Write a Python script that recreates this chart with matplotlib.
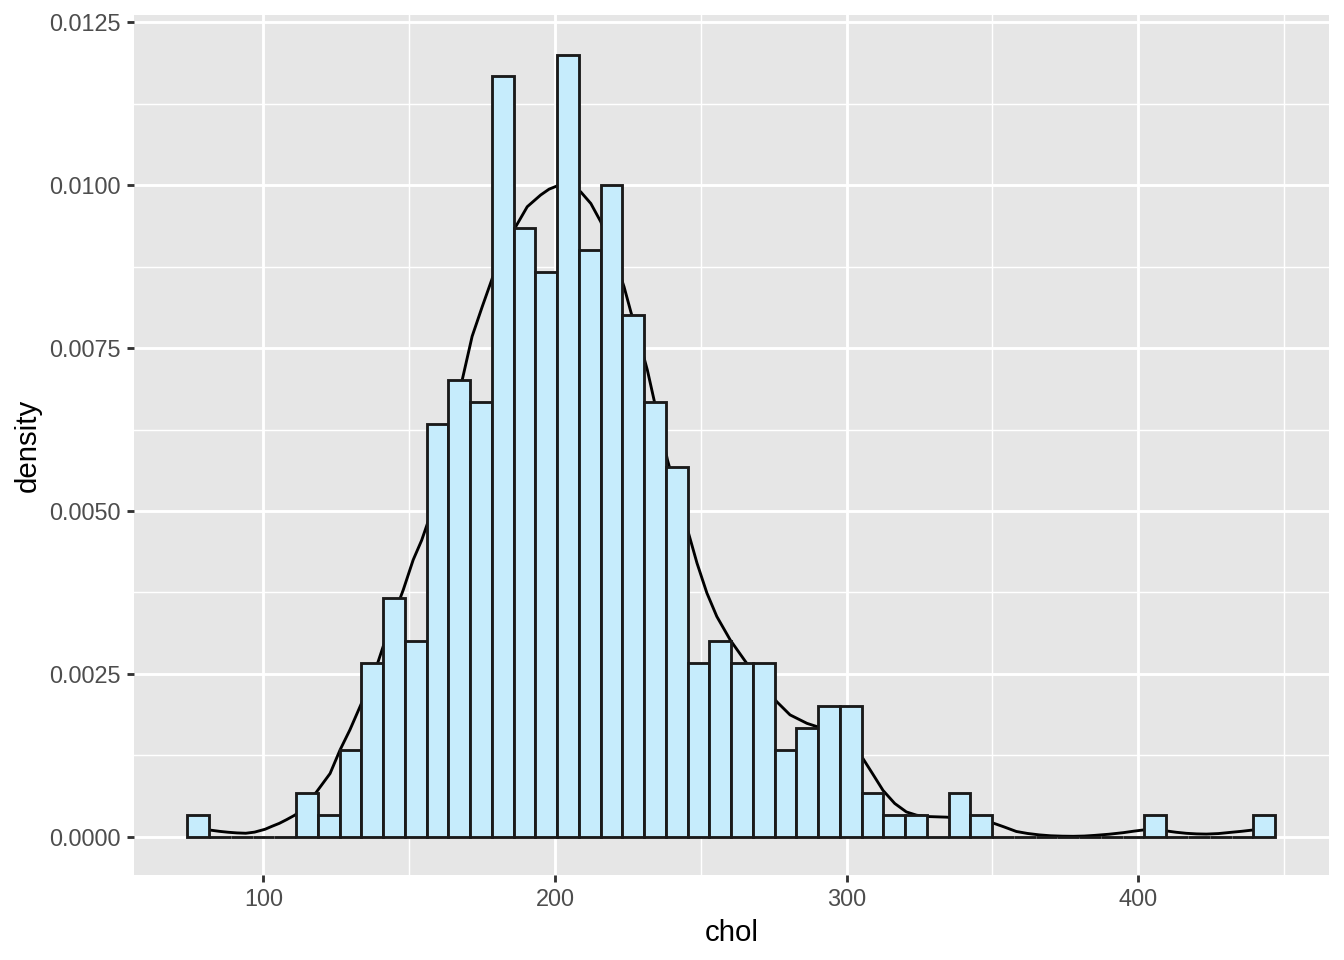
import matplotlib
matplotlib.use("Agg")
import matplotlib.pyplot as plt
import numpy as np

# ---- data ----
bin_start = 73.94
bin_width = 7.459
counts = [1, 0, 0, 0, 0, 2, 1, 4, 8, 11,
          9, 19, 21, 20, 35, 28, 26, 36, 27, 30,
          24, 20, 17, 8, 9, 8, 8, 4, 5, 6,
          6, 2, 1, 1, 0, 2, 1, 0, 0, 0,
          0, 0, 0, 0, 1, 0, 0, 0, 0, 1]

dens_x = [77.7, 80, 82, 85, 88, 91, 94, 97, 100.6, 103, 105.5, 108, 110.9, 114.5, 118.3,
          122.9, 126.3, 129.7, 133.2, 136.6, 139.4, 141.1, 144.6, 148, 151.4, 154.3,
          157, 160, 164, 168.2, 171.6, 175.1, 178.5, 182.5, 186.5, 190.5, 195.1, 198,
          200.8, 204.5, 208.8, 212.3, 215.7, 219.7, 223.7, 226, 228.8, 231.7, 234, 236.3,
          238.6, 242.2, 245.8, 248.7, 252.1, 255.5, 260.1, 265.3, 270.5, 276.1, 280.6,
          286.4, 289.8, 295, 300, 305.6, 309, 312.5, 316.5, 320.5, 324, 327.4, 334.2,
          342, 350.2, 354, 358.2, 362, 366, 370, 374, 377.7, 381.5, 385, 390, 394.9,
          398.5, 401.7, 405.5, 409.7, 413, 416.5, 420, 423.4, 427.5, 432, 435.5, 439.4,
          443.3]
dens_y = [0.000118, 0.000110, 0.000100, 0.000082, 0.000068, 0.000058, 0.000053, 0.000070,
          0.000114, 0.000160, 0.000205, 0.000262, 0.000333, 0.000480, 0.000690,
          0.000970, 0.00133, 0.00164, 0.00200, 0.00235, 0.00269, 0.00292, 0.00338, 0.00379,
          0.00425, 0.00455, 0.00490, 0.00545, 0.00620, 0.00701, 0.00768, 0.00814, 0.00857,
          0.00900, 0.00936, 0.00967, 0.00985, 0.00994,
          0.00999, 0.00999, 0.00990, 0.00972, 0.00944, 0.00898, 0.00844, 0.00806, 0.00764,
          0.00716, 0.00670, 0.00625,
          0.00578, 0.00520, 0.00466, 0.00420, 0.00374, 0.00338, 0.00302, 0.00269, 0.00237,
          0.00207, 0.00187,
          0.00174, 0.00169, 0.00159, 0.00143, 0.00120, 0.00096, 0.00071, 0.00051, 0.00038,
          0.00033, 0.00031, 0.00030,
          0.00027, 0.00021, 0.00015, 0.00008, 0.00005, 0.000028, 0.000014, 0.000008,
          0.000006, 0.000010, 0.000020, 0.000038, 0.000062,
          0.000085, 0.000103, 0.000108, 0.000088, 0.000068, 0.000052, 0.000043, 0.000040,
          0.000048, 0.000068, 0.000083, 0.000103,
          0.000118]

x_ticks = [100, 200, 300, 400]
y_ticks = [0.0, 0.0025, 0.0050, 0.0075, 0.0100, 0.0125]
x_label = "chol"
y_label = "density"

# ---- derived ----
counts_arr = np.array(counts, dtype=float)
n_total = counts_arr.sum()
edges = bin_start + bin_width * np.arange(len(counts) + 1)
density = counts_arr / (n_total * bin_width)

plt.rcParams['font.family'] = ['Liberation Sans', 'DejaVu Sans']

fig = plt.figure(figsize=(7, 5), dpi=192)
ax = fig.add_axes([134 / 1344, 1 - 875 / 960, (1329 - 134) / 1344, (875 - 15) / 960])
ax.set_facecolor('#E6E6E6')
ax.set_axisbelow(True)

for s in ax.spines.values():
    s.set_visible(False)

# density curve (drawn below the bars)
ax.plot(dens_x, dens_y, color='black', lw=1.07, zorder=2, solid_joinstyle='round')

# histogram
ax.bar(edges[:-1], density, width=bin_width, align='edge', color='#C6ECFC',
       edgecolor='#1A1A1A', linewidth=1.07, zorder=3)

ax.set_xlim(55.67, 465.4)
ax.set_ylim(-0.000588, 0.012613)

ax.set_xticks(x_ticks)
ax.set_xticklabels([str(v) for v in x_ticks])
ax.set_yticks(y_ticks)
ax.set_yticklabels([f"{v:.4f}" for v in y_ticks])
ax.set_xticks([150, 250, 350, 450], minor=True)
ax.set_yticks([0.00125, 0.00375, 0.00625, 0.00875, 0.01125], minor=True)

ax.grid(which='major', color='white', lw=1.07)
ax.grid(which='minor', color='white', lw=0.53)

ax.tick_params(which='major', length=2.75, width=1.07, color='#333333',
               labelsize=8.8, labelcolor='#4D4D4D', pad=2.2)
ax.tick_params(which='minor', length=0)

ax.set_xlabel(x_label, fontsize=11, color='black', labelpad=3)
ax.set_ylabel(y_label, fontsize=11, color='black', labelpad=3)

fig.savefig('out.png', dpi=192, facecolor='white')
